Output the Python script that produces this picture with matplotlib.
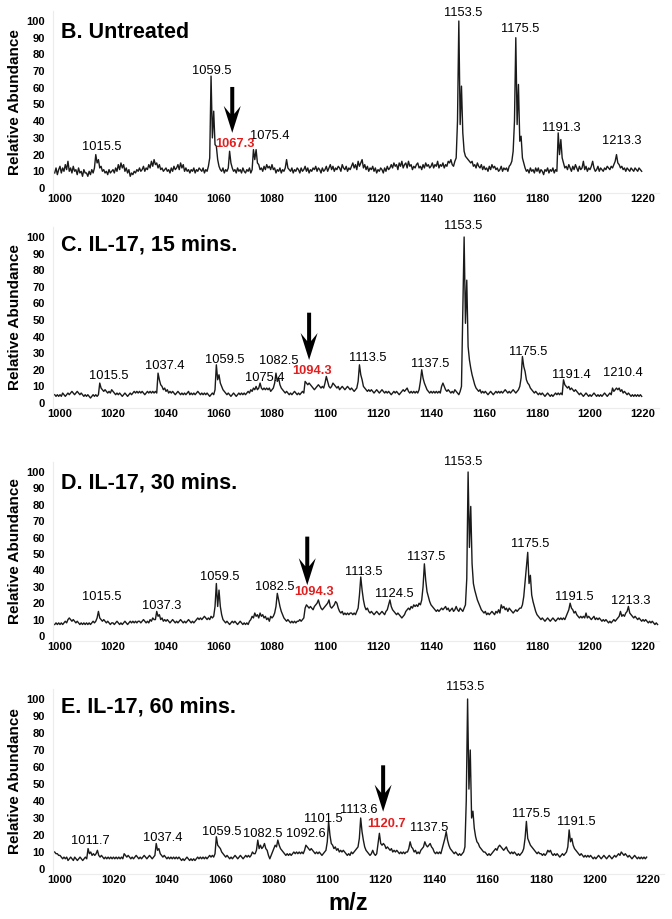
import matplotlib
matplotlib.use('Agg')
import numpy as np
import matplotlib.pyplot as plt
from matplotlib.patches import Polygon
from matplotlib.transforms import IdentityTransform

plt.rcParams['font.family'] = ['Liberation Sans', 'DejaVu Sans']

W, H = 672, 919

# spectra sampled every 0.5 m/z starting at 998
b_int = [
    9, 12, 8, 11,
    13, 9, 12, 10, 14, 11, 16, 10, 12, 9, 13, 10, 11, 8, 12, 9, 10, 7, 11, 9,         # 1000
    9, 7, 10, 8, 11, 9, 12, 20, 15, 17, 12, 13, 10, 11, 9, 10, 8, 11, 9, 10,          # 1010
    11, 9, 12, 10, 14, 11, 15, 12, 14, 10, 12, 9, 11, 7, 9, 8, 10, 9, 11, 10,         # 1020
    12, 10, 11, 13, 10, 12, 11, 14, 12, 16, 13, 17, 14, 15, 12, 14, 11, 12, 10, 11,   # 1030
    12, 10, 11, 9, 12, 10, 13, 11, 12, 14, 11, 15, 12, 14, 10, 12, 10, 11, 9, 11,     # 1040
    10, 12, 9, 11, 10, 12, 11, 10, 12, 9, 11, 10, 13, 18, 67, 30, 46, 26, 25, 17,     # 1050
    13, 11, 10, 12, 9, 11, 10, 12, 22, 15, 12, 10, 11, 9, 12, 10, 11, 9, 12, 10,      # 1060
    9, 11, 10, 12, 9, 11, 23, 17, 23, 15, 14, 11, 12, 10, 13, 11, 14, 12, 13, 11,     # 1070
    14, 11, 12, 9, 11, 10, 12, 9, 11, 10, 12, 17, 12, 11, 10, 12, 9, 11, 10, 12,      # 1080
    11, 9, 12, 10, 11, 13, 10, 12, 9, 11, 10, 12, 11, 13, 10, 12, 11, 9, 12, 10,      # 1090
    11, 13, 10, 12, 14, 11, 13, 10, 12, 11, 13, 12, 10, 14, 12, 11, 13, 10, 12, 11,   # 1100
    13, 15, 12, 14, 11, 16, 13, 15, 17, 12, 14, 11, 13, 10, 12, 11, 13, 10, 12, 9,    # 1110
    11, 10, 12, 11, 9, 12, 10, 13, 11, 12, 14, 12, 15, 13, 14, 11, 15, 13, 16, 12,    # 1120
    14, 15, 12, 16, 13, 14, 11, 13, 12, 14, 15, 12, 13, 11, 14, 12, 15, 13, 14, 12,   # 1130
    13, 15, 12, 14, 13, 16, 12, 14, 13, 15, 12, 14, 13, 16, 15, 17, 14, 13, 16, 18,   # 1140
    40, 100, 38, 61, 33, 22, 19, 18, 17, 16, 15, 16, 13, 14, 12, 15, 13, 12, 14, 11,  # 1150
    13, 11, 12, 10, 13, 11, 14, 12, 13, 11, 12, 10, 11, 13, 10, 12, 11, 12, 10, 13,   # 1160
    14, 16, 22, 40, 90, 38, 62, 28, 31, 18, 15, 12, 10, 11, 9, 12, 10, 11, 9, 12,     # 1170
    10, 12, 9, 11, 10, 8, 11, 10, 12, 9, 11, 10, 12, 9, 11, 10, 33, 20, 29, 18,       # 1180
    15, 12, 13, 11, 14, 12, 10, 13, 11, 14, 12, 10, 13, 11, 12, 16, 11, 13, 10, 12,   # 1190
    11, 13, 16, 12, 10, 11, 13, 10, 12, 11, 10, 12, 11, 13, 12, 11, 13, 12, 14, 16,   # 1200
    20, 15, 14, 12, 13, 11, 12, 10, 12, 11, 10, 12, 11, 10, 12, 11, 10, 12, 11, 10,   # 1210
]
c_int = [
    5, 4, 5, 4,
    5, 4, 6, 5, 4, 5, 6, 5, 6, 7, 6, 5, 6, 7, 6, 5, 6, 5, 4, 5,          # 1000
    4, 5, 4, 3, 4, 5, 4, 5, 4, 5, 12, 9, 8, 7, 8, 7, 6, 7, 6, 8,         # 1010
    7, 6, 5, 6, 5, 6, 5, 4, 5, 6, 5, 4, 5, 6, 5, 6, 7, 6, 7, 6,          # 1020
    7, 6, 7, 6, 5, 6, 7, 6, 7, 6, 7, 6, 7, 6, 18, 14, 11, 10, 8, 9,      # 1030
    7, 8, 6, 7, 6, 7, 6, 5, 6, 7, 6, 5, 6, 5, 6, 5, 6, 7, 5, 6,          # 1040
    5, 6, 5, 6, 7, 6, 5, 6, 5, 6, 5, 6, 5, 4, 5, 6, 5, 8, 23, 14,        # 1050
    17, 12, 10, 8, 7, 6, 5, 6, 5, 4, 5, 6, 5, 4, 5, 6, 5, 6, 5, 6,       # 1060
    5, 6, 7, 6, 8, 7, 9, 8, 10, 8, 9, 12, 9, 8, 9, 8, 9, 8, 9, 7,        # 1070
    8, 9, 12, 18, 13, 15, 11, 9, 8, 7, 6, 7, 6, 5, 6, 5, 6, 7, 6, 5,     # 1080
    6, 5, 6, 7, 6, 13, 12, 11, 12, 11, 10, 9, 8, 9, 10, 11, 10, 9, 10, 9,  # 1090
    12, 16, 13, 10, 9, 10, 12, 11, 10, 9, 10, 8, 9, 10, 9, 8, 9, 10, 9, 8,  # 1100
    9, 8, 7, 8, 9, 13, 23, 17, 14, 10, 9, 8, 7, 8, 7, 8, 7, 6, 7, 8,     # 1110
    7, 6, 7, 8, 7, 6, 7, 6, 7, 6, 5, 6, 7, 6, 7, 6, 5, 6, 7, 8,          # 1120
    7, 8, 9, 7, 6, 7, 6, 7, 6, 7, 6, 8, 13, 20, 15, 12, 10, 8, 7, 6,     # 1130
    7, 6, 7, 6, 7, 6, 7, 6, 10, 12, 10, 8, 7, 8, 7, 6, 7, 6, 8, 7,       # 1140
    6, 5, 7, 10, 55, 100, 48, 74, 34, 26, 21, 17, 14, 11, 9, 8, 7, 8, 6, 7,  # 1150
    6, 7, 6, 5, 6, 7, 6, 5, 6, 7, 6, 7, 6, 7, 6, 7, 8, 7, 6, 7,          # 1160
    6, 7, 8, 7, 6, 7, 8, 10, 15, 28, 22, 19, 14, 12, 11, 9, 8, 7, 6, 7,  # 1170
    6, 5, 6, 5, 6, 5, 4, 5, 6, 5, 4, 5, 4, 5, 6, 5, 6, 5, 6, 5,          # 1180
    14, 11, 10, 9, 10, 8, 9, 8, 7, 8, 7, 6, 5, 6, 5, 4, 5, 6, 5, 4,      # 1190
    5, 4, 5, 6, 5, 4, 5, 4, 5, 4, 5, 6, 5, 4, 5, 6, 5, 9, 7, 8,          # 1200
    9, 8, 9, 7, 8, 6, 7, 6, 5, 6, 5, 4, 5, 4, 5, 4, 5, 4, 5, 4,          # 1210
]
d_int = [
    7, 8, 7, 8,
    7, 8, 7, 8, 9, 8, 10, 11, 10, 9, 10, 9, 8, 9, 8, 7, 8, 7, 8, 7,              # 1000
    8, 7, 8, 7, 8, 9, 8, 9, 11, 15, 11, 10, 9, 10, 9, 8, 9, 8, 7, 8,             # 1010
    8, 7, 8, 9, 8, 7, 8, 7, 8, 9, 8, 7, 8, 9, 8, 9, 8, 9, 8, 9,                  # 1020
    9, 8, 9, 10, 9, 8, 9, 8, 10, 9, 11, 10, 10, 15, 12, 13, 10, 11, 9, 10,       # 1030
    9, 10, 9, 8, 9, 10, 9, 8, 9, 8, 9, 10, 9, 8, 9, 8, 9, 10, 9, 8,              # 1040
    9, 8, 9, 10, 11, 10, 11, 10, 11, 12, 11, 10, 11, 10, 12, 11, 12, 18, 32, 18,  # 1050
    28, 18, 13, 10, 9, 8, 9, 8, 7, 8, 9, 8, 9, 8, 7, 8, 9, 8, 7, 8,              # 1060
    7, 8, 7, 9, 10, 12, 11, 14, 12, 13, 11, 14, 12, 13, 11, 12, 10, 11, 9, 12,   # 1070
    11, 12, 14, 18, 26, 22, 18, 15, 13, 11, 10, 9, 10, 9, 8, 9, 8, 9, 8, 9,      # 1080
    9, 10, 9, 10, 11, 17, 19, 18, 17, 18, 17, 16, 18, 19, 20, 22, 19, 17, 16, 17,  # 1090
    18, 19, 20, 22, 18, 17, 18, 19, 21, 20, 17, 15, 14, 15, 13, 14, 13, 14, 13, 14,  # 1100
    14, 13, 14, 13, 15, 17, 25, 36, 28, 22, 18, 16, 17, 15, 14, 15, 14, 13, 14, 15,  # 1110
    14, 13, 14, 15, 14, 13, 15, 16, 19, 22, 18, 16, 15, 14, 13, 14, 13, 12, 11, 12,  # 1120
    13, 15, 16, 17, 16, 18, 17, 19, 18, 19, 18, 20, 19, 22, 30, 44, 34, 27, 24, 21,  # 1130
    19, 18, 17, 16, 15, 16, 15, 16, 17, 16, 17, 18, 16, 17, 15, 16, 17, 15, 16, 18,  # 1140
    16, 15, 17, 16, 15, 17, 19, 35, 100, 54, 79, 44, 32, 28, 25, 22, 20, 18, 16, 15,  # 1150
    14, 15, 13, 14, 13, 14, 15, 14, 13, 15, 14, 16, 14, 19, 17, 18, 16, 17, 15, 17,  # 1160
    16, 15, 14, 15, 16, 15, 16, 17, 17, 19, 24, 33, 42, 51, 32, 37, 25, 21, 18, 15,  # 1170
    13, 12, 11, 10, 11, 10, 9, 10, 11, 10, 9, 10, 11, 10, 9, 10, 11, 10, 11, 10,     # 1180
    11, 10, 12, 14, 16, 20, 17, 16, 14, 15, 13, 12, 11, 12, 11, 12, 11, 14, 11, 12,  # 1190
    11, 10, 11, 12, 10, 11, 10, 11, 10, 9, 10, 9, 10, 9, 8, 9, 8, 9, 10, 9,          # 1200
    10, 11, 12, 15, 12, 13, 12, 14, 15, 18, 14, 13, 12, 11, 12, 11, 10, 11, 10, 9,   # 1210
    10, 9, 10, 9, 8, 9, 8, 9, 8, 7, 8, 7,                                            # 1220
]
e_int = [
    10, 9, 9, 8,
    8, 7, 6, 7, 6, 7, 5, 6, 7, 6, 5, 7, 6, 5, 6, 7, 6, 5, 6, 7,             # 1000
    6, 12, 9, 10, 8, 9, 8, 9, 11, 8, 7, 8, 7, 6, 7, 6, 7, 6, 7, 6,          # 1010
    7, 6, 7, 6, 7, 6, 7, 6, 9, 8, 7, 8, 7, 6, 7, 6, 7, 8, 7, 6,             # 1020
    7, 6, 7, 8, 7, 6, 7, 8, 7, 6, 7, 8, 15, 11, 12, 9, 8, 7, 8, 7,          # 1030
    6, 7, 6, 7, 6, 7, 6, 7, 6, 7, 6, 5, 6, 5, 6, 7, 6, 5, 6, 5,             # 1040
    6, 5, 6, 7, 6, 7, 6, 7, 6, 7, 6, 7, 8, 7, 8, 7, 9, 19, 14, 13,          # 1050
    12, 10, 9, 8, 7, 8, 7, 6, 7, 6, 7, 8, 7, 6, 7, 8, 7, 6, 7, 8,           # 1060
    7, 8, 7, 8, 10, 9, 9, 11, 17, 12, 14, 12, 13, 15, 12, 11, 8, 6, 8, 10,  # 1070
    12, 14, 13, 17, 14, 12, 11, 10, 9, 8, 9, 8, 9, 8, 9, 10, 9, 10, 9, 10,  # 1080
    9, 10, 9, 11, 14, 13, 12, 11, 12, 11, 10, 9, 10, 9, 10, 9, 8, 9, 10, 11,  # 1090
    16, 28, 20, 15, 14, 12, 13, 11, 12, 10, 11, 10, 11, 10, 9, 8, 9, 8, 10, 9,  # 1100
    10, 11, 12, 13, 18, 30, 22, 17, 13, 11, 10, 9, 8, 9, 11, 9, 8, 9, 15, 21,   # 1110
    15, 14, 15, 14, 12, 13, 12, 11, 12, 10, 11, 10, 11, 10, 9, 10, 9, 10, 9, 10,  # 1120
    10, 12, 16, 13, 12, 10, 11, 9, 10, 9, 11, 12, 13, 16, 14, 13, 14, 15, 13, 12,  # 1130
    10, 9, 10, 9, 10, 9, 12, 15, 18, 22, 17, 14, 12, 11, 10, 9, 10, 9, 8, 9,       # 1140
    8, 9, 10, 13, 40, 100, 47, 70, 30, 34, 24, 19, 16, 15, 13, 12, 11, 10, 10, 9,  # 1150
    8, 9, 8, 9, 10, 11, 12, 11, 13, 14, 13, 12, 11, 12, 13, 11, 10, 9, 10, 9,      # 1160
    10, 9, 8, 9, 8, 9, 10, 12, 18, 28, 18, 16, 14, 13, 12, 11, 10, 9, 10, 9,       # 1170
    9, 8, 9, 8, 9, 11, 10, 11, 9, 8, 9, 8, 9, 8, 7, 8, 9, 8, 9, 10,                # 1180
    13, 23, 16, 18, 14, 12, 11, 10, 9, 8, 9, 8, 7, 8, 7, 8, 7, 8, 7, 6,            # 1190
    7, 6, 7, 8, 7, 6, 7, 8, 7, 6, 7, 8, 7, 6, 7, 8, 7, 8, 9, 8,                    # 1200
    10, 9, 8, 9, 8, 7, 8, 7, 6, 7, 8, 7, 6, 7, 6, 7, 6, 7, 6, 7,                   # 1210
]

# peak annotations: text, x, y (data coords)
b_labels = ['1015.5', '1059.5', '1075.4', '1153.5', '1175.5', '1191.3', '1213.3']
b_lx = [1015.9, 1057.3, 1079.2, 1152.3, 1173.6, 1189.2, 1211.8]
b_ly = [24.7, 70, 31.1, 105, 95.2, 36.1, 28.1]

c_labels = ['1015.5', '1037.4', '1059.5', '1075.4', '1082.5', '1113.5', '1137.5',
            '1153.5', '1175.5', '1191.4', '1210.4']
c_lx = [1018.5, 1039.7, 1062, 1077.4, 1082.7, 1116.3, 1139.7, 1152.3, 1176.7, 1193, 1212.4]
c_ly = [16.5, 22.3, 25.9, 15.3, 25.5, 27.3, 23.5, 106.6, 30.9, 16.9, 17.9]

d_labels = ['1015.5', '1037.3', '1059.5', '1082.5', '1113.5', '1124.5', '1137.5',
            '1153.5', '1175.5', '1191.5', '1213.3']
d_lx = [1015.9, 1038.2, 1060.4, 1081.2, 1114.7, 1126.2, 1138.2, 1152.3, 1177.6, 1194, 1215.3]
d_ly = [24, 18.3, 36.2, 30.1, 39.2, 25.6, 48, 106.3, 56, 24, 21.5]

e_labels = ['1011.7', '1037.4', '1059.5', '1082.5', '1092.6', '1101.5', '1113.6',
            '1137.5', '1153.5', '1175.5', '1191.5']
e_lx = [1011.2, 1038.4, 1060.5, 1075.8, 1091.9, 1098.5, 1111.9, 1138, 1151.5, 1176.4, 1193.2]
e_ly = [16.7, 18, 22, 20.4, 20.4, 29.4, 34.7, 23.9, 107, 32.4, 27.8]

# highlighted peak: text, label x, label y, arrow x, arrow top, arrow tip
marks = [
    ('1067.3', 1066.1, 26.3, 1065.0, 60.5, 33.0),
    ('1094.3', 1095.0, 19.3, 1094.0, 54.4, 25.9),
    ('1094.3', 1095.9, 26.6, 1093.3, 60.6, 31.0),
    ('1120.7', 1122.2, 26.5, 1120.9, 61.0, 33.7),
]

titles = ['B. Untreated', 'C. IL-17, 15 mins.', 'D. IL-17, 30 mins.', 'E. IL-17, 60 mins.']
title_y = [93, 95, 93, 95]

# pixel calibration of each panel: x px at 1000, x px at 1220, y px at 0, y px at 100
calib = [
    (60, 643, 188, 21),
    (60, 643, 403, 237),
    (60, 643, 636, 472),
    (60, 648, 869, 699),
]

XLO, XHI = 997.5, 1226
YLO, YHI = -3, 106


def rect(px0, px220, py0, py100):
    sx = (px220 - px0) / 220.0
    sy = (py0 - py100) / 100.0
    left = px0 + (XLO - 1000) * sx
    right = px0 + (XHI - 1000) * sx
    bot = py0 - YLO * sy
    top = py0 - YHI * sy
    return [left / W, 1 - bot / H, (right - left) / W, (bot - top) / H]


def down_arrow(ax, x, y_top, y_tip):
    # notched black arrow, shape in pixels around the data positions
    tx, ty = ax.transData.transform((x, y_tip))
    _, top = ax.transData.transform((x, y_top))
    length = top - ty
    hl, hw, notch, sw = 27, 8.5, 8, 2.0
    pts = [(0, 0), (hw, hl), (sw, hl - notch), (sw, length),
           (-sw, length), (-sw, hl - notch), (-hw, hl)]
    poly = Polygon([(tx + dx, ty + dy) for dx, dy in pts], closed=True,
                   facecolor='black', edgecolor='none', transform=IdentityTransform())
    fig.add_artist(poly)


fig = plt.figure(figsize=(W / 100, H / 100), dpi=100)

spectra = [b_int, c_int, d_int, e_int]
labels = [(b_labels, b_lx, b_ly), (c_labels, c_lx, c_ly),
          (d_labels, d_lx, d_ly), (e_labels, e_lx, e_ly)]

for i in range(4):
    ax = fig.add_axes(rect(*calib[i]))
    y = np.array(spectra[i], dtype=float)
    x = 998 + 0.5 * np.arange(len(y))
    ax.plot(x, y, color='#1a1a1a', lw=1.0)
    ax.set_xlim(XLO, XHI)
    ax.set_ylim(YLO, YHI)
    ax.set_xticks(np.arange(1000, 1221, 20))
    ax.set_yticks(np.arange(0, 101, 10))
    ax.tick_params(length=0, labelsize=8, pad=0.5)
    ax.tick_params(axis='y', pad=6)
    for t in ax.get_xticklabels() + ax.get_yticklabels():
        t.set_fontweight('bold')
    for s in ['top', 'right']:
        ax.spines[s].set_visible(False)
    for s in ['left', 'bottom']:
        ax.spines[s].set_color('#ececec')
        ax.spines[s].set_linewidth(0.8)
    ax.set_ylabel('Relative Abundance', fontsize=11, fontweight='bold', labelpad=3)

    ax.text(1000.5, title_y[i], titles[i], fontsize=15.5, fontweight='bold', va='center', ha='left')

    txt, lx, ly = labels[i]
    for t, xx, yy in zip(txt, lx, ly):
        ax.text(xx, yy, t, fontsize=9.3, ha='center', va='center', clip_on=False)

    t, mx, my, a_x, a_top, a_tip = marks[i]
    ax.text(mx, my, t, fontsize=9.3, fontweight='bold', color='#e21f1f', ha='center', va='center')
    down_arrow(ax, a_x, a_top, a_tip)

fig.text(348 / W, 1 - 903 / H, 'm/z', fontsize=17, fontweight='bold', ha='center', va='center')

fig.savefig('out.png', dpi=100)
